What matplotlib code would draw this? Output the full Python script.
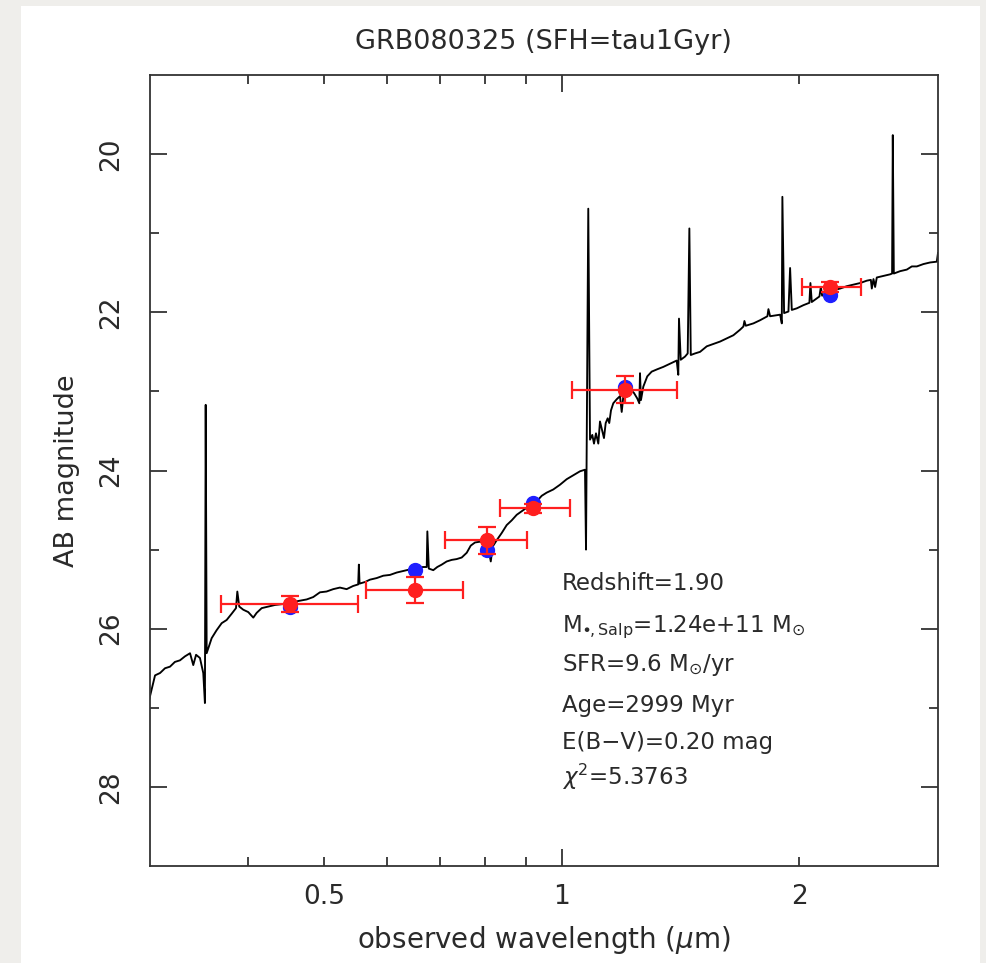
import matplotlib
matplotlib.use("Agg")
import matplotlib.pyplot as plt
from matplotlib.ticker import FixedLocator, FixedFormatter
from matplotlib.patches import Rectangle

plt.rcParams['font.family'] = ['DejaVu Sans']
plt.rcParams['mathtext.fontset'] = 'dejavusans'

# ---------------- data ----------------
title = "GRB080325 (SFH=tau1Gyr)"
xlabel = r"observed wavelength ($\mu$m)"
ylabel = "AB magnitude"

# model spectrum (observed wavelength in micron, AB mag)
spec_lam = [0.3000, 0.3049, 0.3094, 0.3139, 0.3185, 0.3231, 0.3279, 0.3327, 0.3377, 0.3409,
            0.3437, 0.3476, 0.3510, 0.3527, 0.3535, 0.3545, 0.3597, 0.3649, 0.3704, 0.3758,
            0.3814, 0.3862, 0.3877, 0.3899, 0.3945, 0.4003, 0.4062, 0.4102, 0.4163, 0.4245,
            0.4328, 0.4413, 0.4519, 0.4631, 0.4748, 0.4839, 0.4935, 0.5031, 0.5130, 0.5231,
            0.5335, 0.5437, 0.5518, 0.5529, 0.5540, 0.5628, 0.5711, 0.5824, 0.5938, 0.6055,
            0.6175, 0.6295, 0.6420, 0.6546, 0.6674, 0.6741, 0.6753, 0.6782, 0.6871, 0.6952,
            0.7042, 0.7145, 0.7251, 0.7356, 0.7466, 0.7576, 0.7665, 0.7761, 0.7876, 0.7992,
            0.8070, 0.8127, 0.8174, 0.8271, 0.8391, 0.8514, 0.8640, 0.8767, 0.8938, 0.9115,
            0.9294, 0.9430, 0.9568, 0.9754, 0.9947, 1.0144, 1.0342, 1.0546, 1.0701, 1.0733,
            1.0804, 1.0859, 1.0932, 1.0986, 1.1050, 1.1125, 1.1180, 1.1236, 1.1311, 1.1368,
            1.1434, 1.1487, 1.1545, 1.1623, 1.1738, 1.1853, 1.1912, 1.1967, 1.2086, 1.2229,
            1.2347, 1.2467, 1.2540, 1.2566, 1.2601, 1.2688, 1.2835, 1.3002, 1.3216, 1.3452,
            1.3716, 1.3987, 1.4052, 1.4081, 1.4153, 1.4331, 1.4444, 1.4514, 1.4574, 1.4756,
            1.4975, 1.5271, 1.5567, 1.5875, 1.6189, 1.6505, 1.6831, 1.6995, 1.7046, 1.7114,
            1.7500, 1.7846, 1.8230, 1.8284, 1.8374, 1.8919, 1.9012, 1.9044, 1.9140, 1.9384,
            1.9478, 1.9575, 1.9862, 2.0249, 2.0607, 2.0669, 2.0751, 2.1219, 2.1307, 2.1387,
            2.1680, 2.2103, 2.2540, 2.2985, 2.3434, 2.3898, 2.4370, 2.4658, 2.4727, 2.4847,
            2.4968, 2.5089, 2.5579, 2.6085, 2.6236, 2.6290, 2.6369, 2.6859, 2.7390, 2.7791,
            2.8202, 2.8753, 2.9316, 2.9895, 3.0000]
spec_mag = [26.88, 26.59, 26.56, 26.50, 26.48, 26.42, 26.40, 26.35, 26.31, 26.46,
            26.33, 26.37, 26.56, 26.94, 23.17, 26.31, 26.12, 26.02, 25.93, 25.89,
            25.81, 25.74, 25.53, 25.72, 25.76, 25.79, 25.86, 25.80, 25.74, 25.72,
            25.70, 25.69, 25.68, 25.65, 25.63, 25.60, 25.54, 25.53, 25.50, 25.48,
            25.50, 25.46, 25.44, 25.19, 25.43, 25.41, 25.38, 25.36, 25.33, 25.32,
            25.29, 25.27, 25.25, 25.23, 25.22, 25.22, 24.77, 25.24, 25.26, 25.22,
            25.19, 25.15, 25.13, 25.12, 25.10, 25.04, 24.95, 24.91, 24.90, 24.92,
            24.98, 25.15, 24.96, 24.88, 24.79, 24.69, 24.63, 24.56, 24.50, 24.44,
            24.39, 24.32, 24.28, 24.24, 24.18, 24.11, 24.06, 24.01, 23.99, 25.00,
            20.69, 23.61, 23.55, 23.66, 23.53, 23.66, 23.38, 23.47, 23.59, 23.40,
            23.34, 23.40, 23.24, 23.15, 23.10, 23.06, 23.26, 23.07, 22.99, 22.98,
            23.02, 23.09, 23.15, 22.77, 23.11, 22.94, 22.81, 22.75, 22.72, 22.69,
            22.65, 22.61, 22.79, 22.08, 22.60, 22.56, 22.52, 20.94, 22.54, 22.52,
            22.50, 22.43, 22.40, 22.37, 22.33, 22.29, 22.22, 22.18, 22.11, 22.17,
            22.14, 22.10, 22.05, 21.96, 22.05, 22.03, 22.14, 20.54, 22.01, 21.99,
            21.44, 21.97, 21.95, 21.91, 21.88, 21.63, 21.87, 21.80, 21.68, 21.79,
            21.76, 21.72, 21.70, 21.67, 21.65, 21.63, 21.60, 21.59, 21.70, 21.58,
            21.68, 21.56, 21.54, 21.52, 21.51, 19.76, 21.51, 21.48, 21.46, 21.42,
            21.42, 21.39, 21.37, 21.36, 21.25]

# photometry
filt_lam = [0.4520, 0.6513, 0.8029, 0.9186, 1.2024, 2.1884]
filt_lo = [0.3693, 0.5640, 0.7111, 0.8347, 1.0292, 2.0147]
filt_hi = [0.5513, 0.7500, 0.9026, 1.0242, 1.4012, 2.3946]
obs_mag = [25.69, 25.51, 24.88, 24.48, 22.98, 21.68]
obs_err = [0.10, 0.165, 0.17, 0.06, 0.17, 0.06]
model_mag = [25.72, 25.26, 25.00, 24.41, 22.94, 21.78]

# ticks
xtick_major = [1.0]
xtick_major_labels = ["1"]
xtick_minor = [0.4, 0.5, 0.6, 0.7, 0.8, 0.9, 2.0]
xtick_minor_labels = ["", "0.5", "", "", "", "", "2"]
ytick_major = [20, 22, 24, 26, 28]
ytick_minor = [21, 23, 25, 27]

info_lines = ["Redshift=1.90",
              r"M$_{\bullet\!,\mathrm{Salp}}$=1.24e+11 M$_{\odot}$",
              r"SFR=9.6 M$_{\odot}$/yr",
              "Age=2999 Myr",
              "E(B\u2212V)=0.20 mag",
              r"$\chi^2$=5.3763"]
info_x = 1.0
info_y = [25.51, 26.04, 26.53, 27.05, 27.52, 27.98]

# ---------------- figure ----------------
W, H = 986, 963
fig = plt.figure(figsize=(W / 100, H / 100), dpi=100)
fig.patch.set_facecolor('#efeeeb')
fig.add_artist(Rectangle((21 / W, 0), (980 - 21) / W, (963 - 6) / H,
                         transform=fig.transFigure, facecolor='white',
                         edgecolor='none', zorder=0))

ax = fig.add_axes([149.5 / W, 1 - 866 / H, (938 - 149.5) / W, (866 - 75) / H])
ax.set_facecolor('white')
ax.set_xscale('log')

txt_col = '#2a2a2a'
ax.plot(spec_lam, spec_mag, color='black', lw=1.35, zorder=2)
ax.plot(filt_lam, model_mag, 'o', color='#1f1fff', ms=10, mec='#1f1fff', zorder=3)
xerr = [[c - l for c, l in zip(filt_lam, filt_lo)],
        [h - c for c, h in zip(filt_lam, filt_hi)]]
ax.errorbar(filt_lam, obs_mag, xerr=xerr, yerr=obs_err, fmt='o', color='#ff1f1f',
            ms=10, mec='#ff1f1f', elinewidth=1.6, capsize=6.5, capthick=1.6, zorder=4)

ax.set_xlim(0.3, 3.0)
ax.set_ylim(29, 19)

ax.xaxis.set_major_locator(FixedLocator(xtick_major))
ax.xaxis.set_major_formatter(FixedFormatter(xtick_major_labels))
ax.xaxis.set_minor_locator(FixedLocator(xtick_minor))
ax.xaxis.set_minor_formatter(FixedFormatter(xtick_minor_labels))
ax.yaxis.set_major_locator(FixedLocator(ytick_major))
ax.yaxis.set_minor_locator(FixedLocator(ytick_minor))

ax.tick_params(which='both', direction='in', top=True, right=True,
               width=1.3, color='#333333', labelcolor=txt_col)
ax.tick_params(which='major', length=12)
ax.tick_params(which='minor', length=6.5)
ax.tick_params(axis='x', which='both', labelsize=19, pad=13)
ax.tick_params(axis='y', which='major', labelsize=19, pad=18, labelrotation=90)
for t in ax.get_yticklabels():
    t.set_va('center')
for s in ax.spines.values():
    s.set_linewidth(1.3)
    s.set_color('#333333')

for s, y in zip(info_lines, info_y):
    ax.text(info_x, y, s, fontsize=16.5, color=txt_col, ha='left', va='baseline', zorder=5)

ax.set_xlabel(xlabel, fontsize=20, color=txt_col)
ax.xaxis.set_label_coords(0.5, -(940 - 866) / (866 - 75))
ax.xaxis.label.set_va('center')
ax.set_ylabel(ylabel, fontsize=19.5, color=txt_col)
ax.yaxis.set_label_coords(-(149.5 - 67) / (938 - 149.5), 0.5)
ax.yaxis.label.set_va('center')
fig.text((149.5 + 938) / 2 / W, 1 - 42 / H, title, fontsize=19.5, color=txt_col,
         ha='center', va='center')

fig.savefig('out.png', dpi=100, facecolor=fig.get_facecolor())
